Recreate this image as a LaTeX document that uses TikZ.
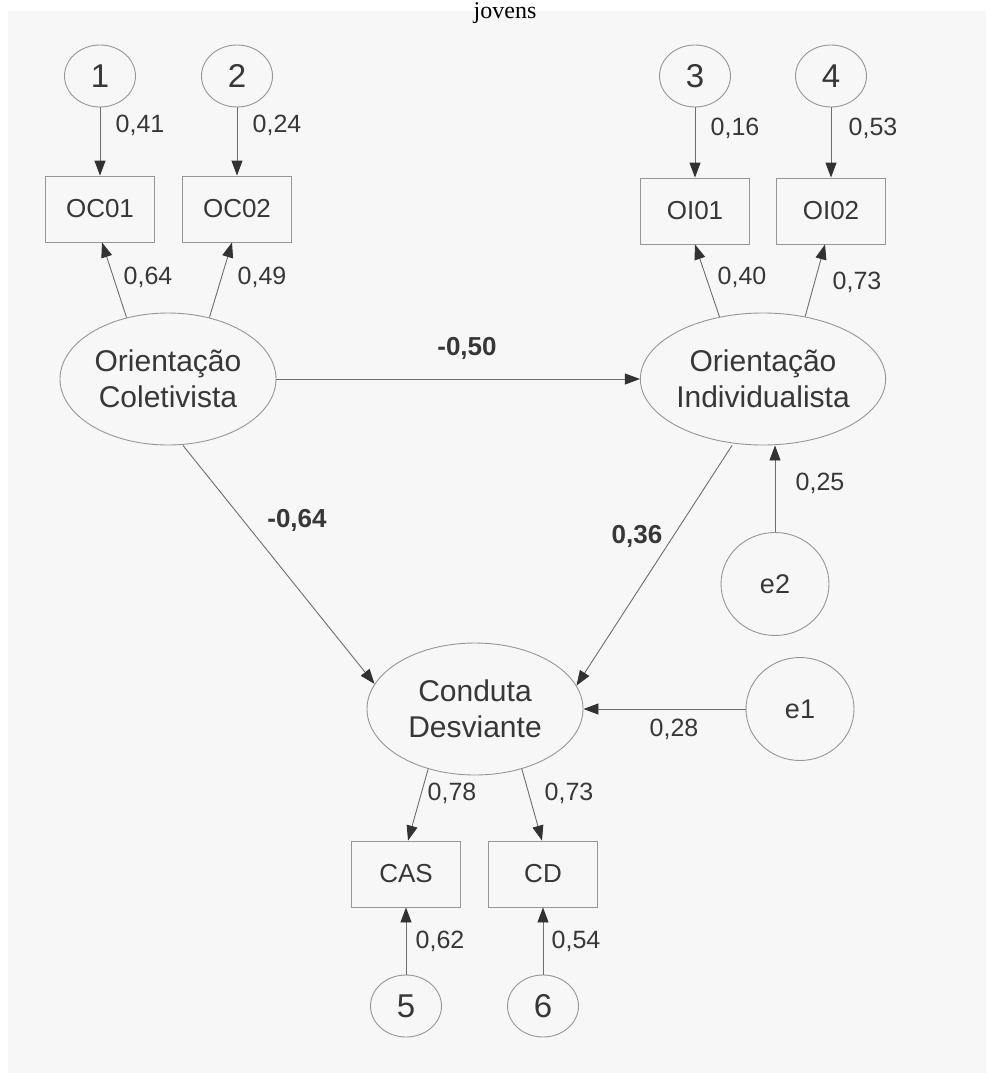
\documentclass[tikz,border=0pt]{standalone}
\usepackage{fontspec}
\setmainfont{Liberation Sans}
\newfontfamily\serifjv{Liberation Serif}
\usetikzlibrary{shapes.geometric,arrows.meta}

\definecolor{bggray}{RGB}{247,247,247}
\definecolor{shapeline}{RGB}{150,150,150}
\definecolor{conline}{RGB}{110,110,110}
\definecolor{txt}{RGB}{55,55,55}
\definecolor{headc}{RGB}{50,50,50}

\begin{document}
\begin{tikzpicture}[x=1pt,y=-1pt,
 lat/.style={ellipse, draw=shapeline, line width=0.9pt, minimum width=216pt, minimum height=132pt, inner sep=0pt, align=center, font=\fontsize{30}{36}\selectfont, text=txt},
 err/.style={ellipse, draw=shapeline, line width=0.9pt, minimum width=71pt, minimum height=62pt, inner sep=0pt, font=\fontsize{33}{36}\selectfont, text=txt},
 bigerr/.style={ellipse, draw=shapeline, line width=0.9pt, minimum width=108pt, minimum height=103pt, inner sep=0pt, font=\fontsize{27}{30}\selectfont, text=txt},
 obs/.style={rectangle, draw=shapeline, line width=0.9pt, minimum width=109pt, minimum height=66pt, inner sep=0pt, font=\fontsize{26}{30}\selectfont, text=txt},
 conn/.style={draw=conline, line width=0.9pt, -{Triangle[length=15pt,width=11pt,color=headc]}},
 coef/.style={font=\fontsize{25}{30}\selectfont, text=txt, inner sep=0pt},
 bcoef/.style={font=\bfseries\fontsize{26}{30}\selectfont, text=txt, inner sep=0pt},
]
\useasboundingbox (0,0) rectangle (991,1073);
\fill[white] (0,0) rectangle (991,1073);
\fill[bggray] (8,11) rectangle (986,1073);

\node[font=\serifjv\fontsize{24}{28}\selectfont, anchor=base, text=black, inner sep=0pt] (title) at (505,19) {jovens};

% error circles
\node[err] (n1) at (100,76) {1};
\node[err] (n2) at (237,76) {2};
\node[err] (n3) at (695,76) {3};
\node[err] (n4) at (831,76) {4};
\node[err] (n5) at (406,1006) {5};
\node[err] (n6) at (543,1006) {6};
\node[bigerr] (e2) at (775,584) {e2};
\node[bigerr] (e1) at (800,709) {e1};

% observed
\node[obs] (OC01) at (100,209) {OC01};
\node[obs] (OC02) at (237,209) {OC02};
\node[obs] (OI01) at (695,211) {OI01};
\node[obs] (OI02) at (831,211) {OI02};
\node[obs] (CAS) at (406,874) {CAS};
\node[obs] (CD) at (543,874) {CD};

% latent
\node[lat] (OCol) at (168,379) {Orientação\\Coletivista};
\node[lat] (OInd) at (763,379) {Orientação\\Individualista};
\node[lat] (Cond) at (475,709) {Conduta\\Desviante};

% connectors
\draw[conn] (n1) -- (OC01);
\draw[conn] (n2) -- (OC02);
\draw[conn] (n3) -- (OI01);
\draw[conn] (n4) -- (OI02);
\draw[conn] (n5) -- (CAS);
\draw[conn] (n6) -- (CD);

\draw[conn] (OCol.124) -- ([xshift=2pt]OC01.south);
\draw[conn] (OCol.56) -- ([xshift=-5pt]OC02.south);
\draw[conn] (OInd.125) -- (OI01.south);
\draw[conn] (OInd.56) -- ([xshift=-6pt]OI02.south);

\draw[conn] (OCol.east) -- (OInd.west);
\draw[conn] ([xshift=15pt]OCol.south) -- (Cond.166);
\draw[conn] ([xshift=-31pt]OInd.south) -- (Cond.13);
\draw[conn] (e2.north) -- (e2.north |- OInd.south);
\draw[conn] (e1.west) -- (Cond.east);

\draw[conn] (Cond.-128) -- ([xshift=2pt]CAS.north);
\draw[conn] (Cond.-52) -- ([xshift=-1pt]CD.north);

% coefficients
\node[coef] (c1) at (140,125) {0,41};
\node[coef] (c2) at (277,125) {0,24};
\node[coef] (c3) at (735,128) {0,16};
\node[coef] (c4) at (873,128) {0,53};
\node[coef] (c5) at (148,277) {0,64};
\node[coef] (c6) at (262,277) {0,49};
\node[coef] (c7) at (742,277) {0,40};
\node[coef] (c8) at (857,282) {0,73};
\node[bcoef] (c9) at (467,348) {-0,50};
\node[bcoef] (c10) at (297,520) {-0,64};
\node[bcoef] (c11) at (637,536) {0,36};
\node[coef] (c12) at (820,483) {0,25};
\node[coef] (c13) at (674,729) {0,28};
\node[coef] (c14) at (452,793) {0,78};
\node[coef] (c15) at (569,793) {0,73};
\node[coef] (c16) at (440,941) {0,62};
\node[coef] (c17) at (576,941) {0,54};
\end{tikzpicture}
\end{document}
